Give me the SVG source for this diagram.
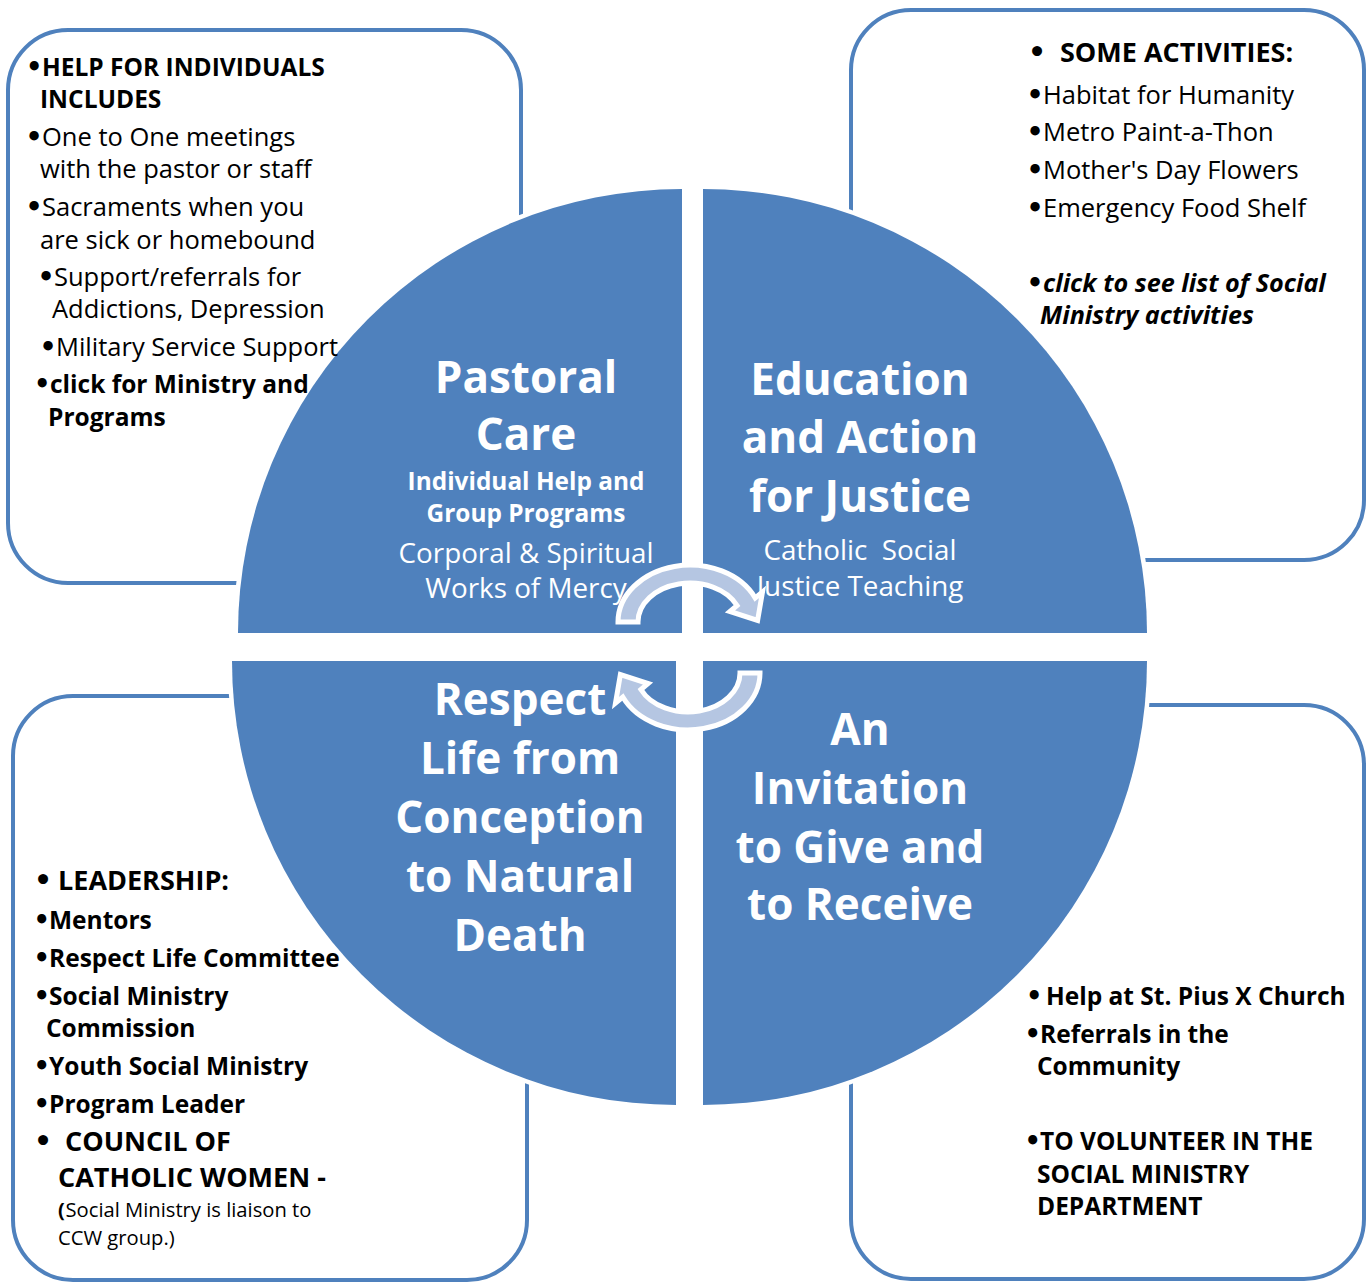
<svg xmlns="http://www.w3.org/2000/svg" width="1367" height="1285" viewBox="0 0 1367 1285">
<style>
.box{fill:#fff;stroke:#4f81bd;stroke-width:4}
.quad{fill:#4f81bd;stroke:#fff;stroke-width:9;paint-order:stroke}
.arr{fill:#b5c6e2;stroke:#fff;stroke-width:5;stroke-linejoin:miter}
text{font-family:"Open Sans","Noto Sans","Liberation Sans",sans-serif}
.t{font-size:25.5px;fill:#000}
.b{font-size:24.5px;font-weight:bold;fill:#000}
.bi{font-size:25.2px;font-weight:bold;font-style:italic;fill:#000}
.bb{font-size:27px;font-weight:bold;fill:#000}
.bu{font-family:"DejaVu Sans",sans-serif;font-weight:bold;font-style:normal;font-size:1.05em}
.h{font-size:44px;font-weight:bold;fill:#fff;text-anchor:middle}
.s{font-size:24.4px;font-weight:bold;fill:#fff;text-anchor:middle}
.r{font-size:27.8px;fill:#fff;text-anchor:middle}
.sm{font-size:20.2px;fill:#000}
</style>
<g id="box-tl"><rect class="box" x="8" y="30" width="513" height="553" rx="60"/></g>
<g id="box-tr"><rect class="box" x="851" y="10" width="513" height="550" rx="60"/></g>
<g id="box-bl"><rect class="box" x="13" y="696" width="514" height="584" rx="60"/></g>
<g id="box-br"><rect class="box" x="851" y="705" width="513" height="574" rx="60"/></g>

<g id="quad-tl"><path class="quad" d="M682 633 L238 633 A444 444 0 0 1 682 189 Z"/></g>
<g id="quad-tr"><path class="quad" d="M703 633 L703 189 A444 444 0 0 1 1147 633 Z"/></g>
<g id="quad-bl"><path class="quad" d="M676 661 L676 1105 A444 444 0 0 1 232 661 Z"/></g>
<g id="quad-br"><path class="quad" d="M703 661 L1147 661 A444 444 0 0 1 703 1105 Z"/></g>

<g id="text-tl">
<text class="b" x="26" y="76"><tspan class="bu">•</tspan><tspan x="42">HELP FOR INDIVIDUALS</tspan></text>
<text class="b" x="40" y="108">INCLUDES</text>
<text class="t" x="25.5" y="146"><tspan class="bu">•</tspan><tspan x="42">One to One meetings</tspan></text>
<text class="t" x="40" y="178">with the pastor or staff</text>
<text class="t" x="25.5" y="216"><tspan class="bu">•</tspan><tspan x="42">Sacraments when you</tspan></text>
<text class="t" x="40" y="249">are sick or homebound</text>
<text class="t" x="37.5" y="286"><tspan class="bu">•</tspan><tspan x="54">Support/referrals for</tspan></text>
<text class="t" x="52" y="318">Addictions, Depression</text>
<text class="t" x="39.5" y="356"><tspan class="bu">•</tspan><tspan x="56">Military Service Support</tspan></text>
<text class="b" x="34" y="393"><tspan class="bu">•</tspan><tspan x="50">click for Ministry and</tspan></text>
<text class="b" x="48" y="426">Programs</text>
</g>

<g id="text-tr">
<text class="bb" x="1028" y="62"><tspan class="bu">•</tspan><tspan x="1060">SOME ACTIVITIES:</tspan></text>
<text class="t" x="1026.5" y="104"><tspan class="bu">•</tspan><tspan x="1043">Habitat for Humanity</tspan></text>
<text class="t" x="1026.5" y="141"><tspan class="bu">•</tspan><tspan x="1043">Metro Paint-a-Thon</tspan></text>
<text class="t" x="1026.5" y="179"><tspan class="bu">•</tspan><tspan x="1043">Mother's Day Flowers</tspan></text>
<text class="t" x="1026.5" y="217"><tspan class="bu">•</tspan><tspan x="1043">Emergency Food Shelf</tspan></text>
<text class="bi" x="1026.5" y="292"><tspan class="bu">•</tspan><tspan x="1043">click to see list of Social</tspan></text>
<text class="bi" x="1040" y="324">Ministry activities</text>
</g>

<g id="text-bl">
<text class="bb" x="34" y="890"><tspan class="bu">•</tspan><tspan x="58">LEADERSHIP:</tspan></text>
<text class="b" x="33.5" y="929"><tspan class="bu">•</tspan><tspan x="49">Mentors</tspan></text>
<text class="b" x="33.5" y="967"><tspan class="bu">•</tspan><tspan x="49">Respect Life Committee</tspan></text>
<text class="b" x="33.5" y="1005"><tspan class="bu">•</tspan><tspan x="49">Social Ministry</tspan></text>
<text class="b" x="46" y="1037">Commission</text>
<text class="b" x="33.5" y="1075"><tspan class="bu">•</tspan><tspan x="49">Youth Social Ministry</tspan></text>
<text class="b" x="33.5" y="1113"><tspan class="bu">•</tspan><tspan x="49">Program Leader</tspan></text>
<text class="bb" x="34" y="1151"><tspan class="bu">•</tspan><tspan x="65">COUNCIL OF</tspan></text>
<text class="bb" x="58" y="1187">CATHOLIC WOMEN -</text>
<text class="sm" x="58" y="1217"><tspan font-weight="bold">(</tspan><tspan x="65.5">Social Ministry is liaison to</tspan></text>
<text class="sm" x="58" y="1245">CCW group.)</text>
</g>

<g id="text-br">
<text class="b" x="1026" y="1005"><tspan class="bu">•</tspan><tspan x="1046">Help at St. Pius X Church</tspan></text>
<text class="b" x="1024.5" y="1043"><tspan class="bu">•</tspan><tspan x="1040">Referrals in the</tspan></text>
<text class="b" x="1037" y="1075">Community</text>
<text class="b" x="1024.5" y="1150"><tspan class="bu">•</tspan><tspan x="1040">TO VOLUNTEER IN THE</tspan></text>
<text class="b" x="1037" y="1183">SOCIAL MINISTRY</text>
<text class="b" x="1037" y="1215">DEPARTMENT</text>
</g>

<g id="label-pastoral">
<text class="h" x="526" y="393">Pastoral</text>
<text class="h" x="526" y="450">Care</text>
<text class="s" x="526" y="490">Individual Help and</text>
<text class="s" x="526" y="522">Group Programs</text>
<text class="r" x="526" y="563">Corporal &amp; Spiritual</text>
<text class="r" x="526" y="598">Works of Mercy</text>
</g>

<g id="label-education">
<text class="h" x="860" y="395">Education</text>
<text class="h" x="860" y="453">and Action</text>
<text class="h" x="860" y="512">for Justice</text>
<text class="r" x="860" y="560">Catholic&#160; Social</text>
<text class="r" x="860" y="596">Justice Teaching</text>
</g>

<g id="label-respect">
<text class="h" x="520" y="715">Respect</text>
<text class="h" x="520" y="774">Life from</text>
<text class="h" x="520" y="833">Conception</text>
<text class="h" x="520" y="892">to Natural</text>
<text class="h" x="520" y="951">Death</text>
</g>

<g id="label-invitation">
<text class="h" x="860" y="745">An</text>
<text class="h" x="860" y="804">Invitation</text>
<text class="h" x="860" y="863">to Give and</text>
<text class="h" x="860" y="920">to Receive</text>
</g>

<g id="connectors">
<path class="arr" transform="translate(690,622)" d="M-72 0 A72 57 0 0 1 65.2 -24.1 L72.5 -30.1 L67.6 -1.5 L39.9 -10.5 L47.1 -16.5 A52 39 0 0 0 -52 0 Z"/>
<path class="arr" transform="translate(688,673) rotate(180)" d="M-72 0 A72 57 0 0 1 65.2 -24.1 L72.5 -30.1 L67.6 -1.5 L39.9 -10.5 L47.1 -16.5 A52 39 0 0 0 -52 0 Z"/>
</g>
</svg>
